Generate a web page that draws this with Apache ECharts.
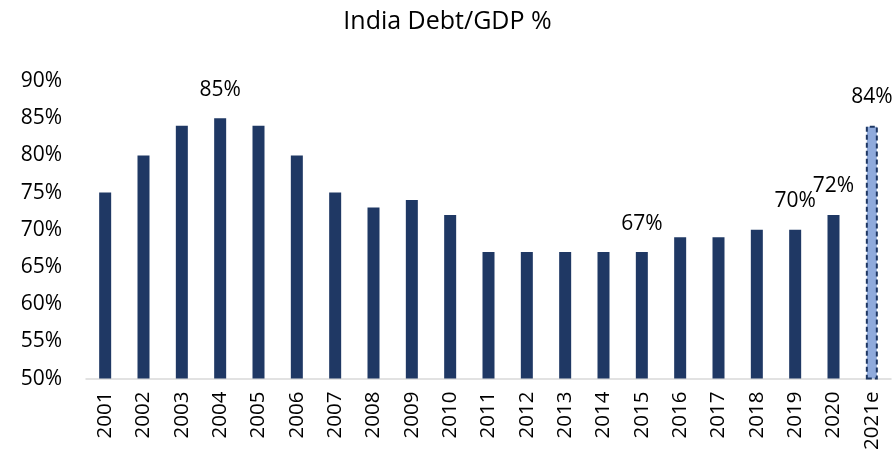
<!DOCTYPE html>
<html>
<head>
<meta charset="utf-8">
<script src="https://cdn.jsdelivr.net/npm/echarts@6/dist/echarts.min.js"></script>
<style>
  html, body { margin: 0; padding: 0; background: #fff; }
  #chart { width: 895px; height: 453px; }
</style>
</head>
<body>
<div id="chart"></div>
<script>
// India general government debt as a share of GDP
const years = ['2001','2002','2003','2004','2005','2006','2007','2008','2009','2010',
               '2011','2012','2013','2014','2015','2016','2017','2018','2019','2020','2021e'];
const debtPct = [75, 80, 84, 85, 84, 80, 75, 73, 74, 72,
                 67, 67, 67, 67, 67, 69, 69, 70, 70, 72, 84];
// Years whose bars carry a value label
const labelledYears = ['2004', '2015', '2019', '2020', '2021e'];
const estimateYear = '2021e';

const FONT = '"Open Sans", "Noto Sans", sans-serif';
const DARK = '#1f3864';
const LIGHT = '#8faadc';

const barData = years.map((y, i) => {
  const item = { value: debtPct[i] };
  if (y === estimateYear) {
    item.itemStyle = { color: LIGHT, borderColor: DARK, borderType: [5, 3], borderWidth: 2 };
  }
  if (labelledYears.includes(y)) {
    item.label = { show: true };
  }
  return item;
});

const chart = echarts.init(document.getElementById('chart'), null, { renderer: 'canvas' });
chart.setOption({
  animation: false,
  title: {
    text: 'India Debt/GDP %',
    left: 'center',
    top: 4,
    textStyle: { fontFamily: FONT, fontSize: 25, fontWeight: 'normal', color: '#000' }
  },
  grid: { left: 86, right: 4, top: 81, bottom: 72 },
  xAxis: {
    type: 'category',
    data: years,
    axisLine: { lineStyle: { color: '#d9d9d9', width: 1.5 } },
    axisTick: { show: false },
    axisLabel: { rotate: 90, fontFamily: FONT, fontSize: 20.5, color: '#000', margin: 13, interval: 0 }
  },
  yAxis: {
    type: 'value',
    min: 50, max: 90, interval: 5,
    splitLine: { show: false },
    axisLine: { show: false },
    axisTick: { show: false },
    axisLabel: { formatter: '{value}%', fontFamily: FONT, fontSize: 21, color: '#000', margin: 24 }
  },
  series: [{
    type: 'bar',
    data: barData,
    barWidth: 12,
    itemStyle: { color: DARK },
    label: {
      show: false,
      position: 'top',
      distance: 18,
      formatter: '{c}%',
      fontFamily: FONT,
      fontSize: 21,
      color: '#000'
    }
  }]
});
</script>
</body>
</html>
